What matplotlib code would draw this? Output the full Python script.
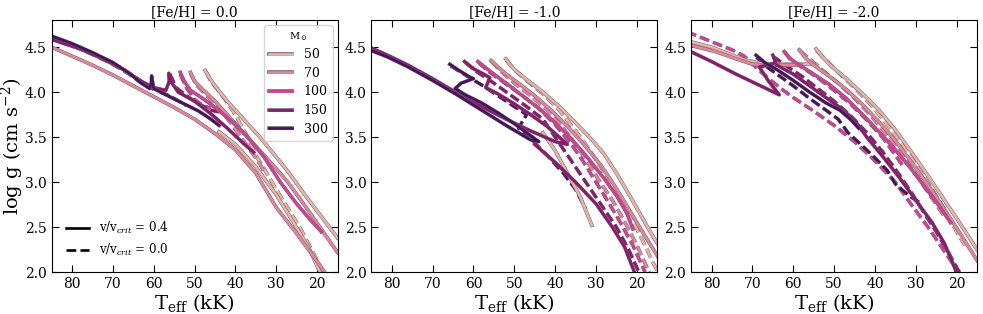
import numpy as np
import matplotlib.pyplot as plt
import matplotlib.patheffects as pe
from matplotlib.lines import Line2D

plt.rcParams['font.family'] = ['DejaVu Serif']
plt.rcParams['mathtext.fontset'] = 'dejavuserif'

nan = np.nan
masses = [50, 70, 100, 150, 300]
colors = ['#e9b2ac', '#e4849f', '#d63f98', '#8e1870', '#4a0f5f']
feh = ['0.0', '-1.0', '-2.0']

# tracks as (Teff [kK], log g); nan splits a track where it leaves the window
# ---- [Fe/H] = 0.0 ----
z0_50_rot = [(47.4, 4.24), (46.5, 4.17), (45, 4.07), (42, 3.9), (38, 3.7), (34, 3.5), (30, 3.28),
             (27, 3.11), (23, 2.86), (19, 2.62), (15, 2.38), (nan, nan),
             (44, 3.56), (40, 3.42), (35, 3.17), (30, 2.86), (26, 2.57), (22, 2.27), (19.5, 2.02), (19, 1.98)]
z0_70_rot = [(51, 4.22), (50, 4.12), (48, 4.03), (45, 3.9), (41, 3.7), (37, 3.5), (33, 3.3), (30, 3.15),
             (27, 2.99), (23, 2.74), (19, 2.48), (15, 2.22), (nan, nan),
             (86, 4.52), (80, 4.4), (75, 4.3), (70, 4.19), (65, 4.07), (60, 3.95), (55, 3.83), (50, 3.7),
             (45, 3.54), (40, 3.36), (35, 3.1), (30, 2.72), (25, 2.43), (20, 2.12), (18, 1.99)]
z0_100_rot = [(53.5, 4.22), (52.5, 4.12), (51, 4.02), (48, 3.93), (45, 3.83), (41, 3.68), (37, 3.5),
              (33, 3.28), (29, 3.0), (25, 2.76), (22, 2.6), (19, 2.45)]
z0_150_rot = [(86, 4.6), (78, 4.48), (72, 4.36), (67, 4.24), (63, 4.12), (60, 4.05), (57, 4.02),
              (56.2, 4.12), (56.3, 4.21), (55.5, 4.1), (54, 4.0), (50, 3.9), (46, 3.76), (42, 3.6),
              (38, 3.43), (35.5, 3.33)]
z0_300_rot = [(86, 4.64), (80, 4.54), (75, 4.44), (70, 4.33), (66, 4.21), (63, 4.1), (61, 4.04),
              (60.6, 4.1), (60.5, 4.18), (60.2, 4.1), (60, 4.04), (57, 3.97), (53, 3.88), (49, 3.79),
              (46, 3.7), (44, 3.63)]
z0_50_norot = [(47.2, 4.23), (46, 4.12), (43, 3.95), (40, 3.75), (37, 3.5), (35, 3.3), (33, 3.15),
               (30, 2.92), (27, 2.7), (24, 2.48), (21, 2.22), (18.5, 2.0)]
z0_70_norot = [(51, 4.21), (49.5, 4.08), (47, 3.96), (44, 3.82), (41, 3.65), (38, 3.46), (35.5, 3.3),
               (34, 3.2), (33, 3.12)]
z0_100_norot = [(86, 4.62), (80, 4.52), (75, 4.42), (70, 4.31), (66, 4.2), (63, 4.1), (60, 4.03),
                (nan, nan), (53.5, 4.2), (52, 4.05), (50, 3.92), (48, 3.85), (46, 3.82)]
z0_150_norot = [(56, 4.2), (54.5, 4.05), (52, 3.96), (49, 3.87), (46, 3.8), (44, 3.78)]
z0_300_norot = [(86, 4.62), (80, 4.52), (74, 4.41), (68, 4.27), (64, 4.15), (61, 4.06), (58, 4.0),
                (55, 3.93), (52, 3.85)]

# ---- [Fe/H] = -1.0 ----
z1_50_rot = [(52.1, 4.37), (51, 4.3), (49.5, 4.23), (47, 4.14), (43, 4.0), (39, 3.84), (35, 3.66),
             (31, 3.47), (28, 3.31), (25, 3.1), (22, 2.87), (19, 2.63), (17, 2.47), (15, 2.32),
             (nan, nan), (43, 3.55), (40, 3.35), (37, 3.1), (34, 2.85), (31, 2.52)]
z1_70_rot = [(55.7, 4.35), (54, 4.28), (52, 4.2), (49, 4.1), (45, 3.96), (41, 3.8), (37, 3.62),
             (33, 3.42), (29, 3.2), (26, 3.0), (23, 2.78), (20, 2.55), (17, 2.33), (15, 2.18)]
z1_100_rot = [(58.9, 4.34), (57, 4.27), (55, 4.2), (52, 4.1), (48, 3.96), (44, 3.82), (40, 3.66),
              (36, 3.48), (32, 3.27), (28, 3.04), (25, 2.85), (22.5, 2.66), (21, 2.48)]
z1_150_rot = [(62.2, 4.34), (60, 4.26), (57.5, 4.2), (56, 4.16), (57, 4.05), (54, 3.98), (50, 3.87),
              (46, 3.75), (42, 3.62), (39, 3.5), (37, 3.42), (40, 3.45), (46, 3.57), (52, 3.7),
              (58, 3.84), (64, 3.99), (70, 4.15), (76, 4.3), (81, 4.41), (86, 4.51), (nan, nan),
              (45, 3.42), (40, 3.22), (35, 3.0), (30, 2.76), (26, 2.5), (23, 2.28), (20.5, 1.99)]
z1_300_rot = [(65.8, 4.31), (63.5, 4.24), (61, 4.17), (60, 4.15), (63, 4.1), (64.5, 4.04), (62, 3.97),
              (58, 3.88), (54, 3.77), (50, 3.65), (47, 3.55), (44, 3.45), (46, 3.47), (52, 3.63),
              (58, 3.8), (64, 3.97), (70, 4.13), (76, 4.28), (81, 4.39), (86, 4.48)]
z1_50_norot = [(52, 4.36), (50, 4.25), (47, 4.13), (43, 3.98), (39, 3.8), (36, 3.63), (33, 3.45),
               (30, 3.25), (27, 3.04), (24, 2.82), (21, 2.57), (18, 2.3), (16, 2.1), (15, 2.02)]
z1_70_norot = [(55.6, 4.34), (53, 4.22), (50, 4.1), (46, 3.96), (42, 3.8), (38, 3.6), (35, 3.42),
               (32, 3.22), (29, 3.0), (26, 2.8), (23, 2.56), (20, 2.3), (17.5, 2.05), (17, 2.0)]
z1_100_norot = [(58.8, 4.33), (56, 4.22), (52, 4.09), (48, 3.96), (44, 3.82), (40, 3.64), (36, 3.42),
                (33, 3.22), (30, 3.0), (27, 2.78), (24, 2.55), (21, 2.3), (19, 2.1), (18, 2.0)]
z1_150_norot = [(62, 4.33), (59, 4.22), (55, 4.1), (51, 3.97), (47, 3.84), (43, 3.7), (40, 3.5),
                (37, 3.3), (34, 3.1), (31, 2.9), (28, 2.7), (25, 2.5), (22, 2.25), (20, 2.05), (19.5, 2.0)]
z1_300_norot = [(65.5, 4.29), (62, 4.19), (58, 4.08), (54, 3.96), (50, 3.84), (47, 3.75), (49, 3.6),
                (46, 3.48), (42, 3.3), (38, 3.1), (35, 2.92), (32.5, 2.7)]

# ---- [Fe/H] = -2.0 ----
z2_50_rot = [(54.4, 4.48), (53, 4.4), (51, 4.3), (47, 4.15), (43, 3.98), (39, 3.8), (35, 3.58),
             (31, 3.33), (27, 3.07), (23, 2.8), (19, 2.53), (15, 2.25), (nan, nan),
             (55, 4.31), (60, 4.31), (64, 4.31), (68, 4.32), (72, 4.36), (76, 4.43), (80, 4.5), (86, 4.57)]
z2_70_rot = [(58.5, 4.47), (57, 4.38), (55, 4.3), (51, 4.17), (47, 4.03), (43, 3.86), (39, 3.67),
             (35, 3.46), (31, 3.22), (27, 2.97), (23, 2.7), (19, 2.42), (15, 2.13), (nan, nan),
             (58, 4.3), (62, 4.3), (66, 4.3), (70, 4.31), (74, 4.37), (79, 4.45), (86, 4.53)]
z2_100_rot = [(62.2, 4.45), (61, 4.38), (58.5, 4.3), (55, 4.2), (51, 4.08), (47, 3.93), (43, 3.75),
              (39, 3.56), (35, 3.36), (31, 3.14), (27, 2.9), (24, 2.72), (21.5, 2.55)]
z2_150_rot = [(65, 4.41), (64.3, 4.33), (66, 4.3), (68.3, 4.28), (66, 4.12), (63.4, 3.97), (68, 4.07),
              (74, 4.2), (80, 4.34), (86, 4.47), (nan, nan),
              (64, 4.3), (60, 4.2), (56, 4.07), (52, 3.94), (48.6, 3.83), (45, 3.69), (42, 3.5),
              (38, 3.28), (34, 3.05), (30, 2.8), (26, 2.55), (23, 2.32), (20.5, 2.05), (20, 1.99)]
z2_300_rot = [(69.1, 4.41), (67, 4.33), (64, 4.25), (60, 4.13), (56, 4.0), (52, 3.88), (48.6, 3.8),
              (45.8, 3.69), (44, 3.6)]
z2_50_norot = [(54.3, 4.46), (52, 4.36), (49, 4.22), (45, 4.05), (41, 3.86), (37, 3.64), (33, 3.4),
               (29, 3.13), (26, 2.92), (23, 2.7), (20, 2.45), (18, 2.3)]
z2_70_norot = [(58.4, 4.46), (56, 4.37), (53, 4.25), (49, 4.1), (45, 3.93), (41, 3.74), (37, 3.52),
               (33, 3.28), (29, 3.02), (26, 2.82), (23, 2.62)]
z2_100_norot = [(62, 4.44), (60.5, 4.36), (58, 4.28), (54, 4.16), (50, 4.02), (46, 3.87), (42, 3.69),
                (38, 3.49), (35, 3.3), (33, 3.17), (nan, nan),
                (86, 4.67), (80, 4.56), (75, 4.47), (72, 4.4), (69, 4.27), (66, 4.15), (63, 4.04),
                (60, 3.94), (55, 3.79), (50, 3.63), (45, 3.45), (40.5, 3.26), (35, 3.0), (30.6, 2.72),
                (27, 2.5), (24, 2.3), (21, 2.1), (19.5, 2.0)]
z2_150_norot = [(65, 4.4), (62, 4.3), (58, 4.18), (54, 4.04), (50, 3.9), (46, 3.74), (42, 3.55),
                (38, 3.33), (34, 3.08), (31, 2.88), (28, 2.66), (25, 2.45), (22, 2.22), (20, 2.05), (19.3, 2.0)]
z2_300_norot = [(69, 4.39), (67, 4.3), (64, 4.2), (60, 4.07), (56, 3.93), (52, 3.8), (49, 3.7),
                (46.6, 3.55), (43, 3.4), (40, 3.27), (37, 3.13), (35, 2.98), (33, 2.9), (31, 2.83), (28.6, 2.76)]

panels = [
    ([z0_50_rot, z0_70_rot, z0_100_rot, z0_150_rot, z0_300_rot],
     [z0_50_norot, z0_70_norot, z0_100_norot, z0_150_norot, z0_300_norot]),
    ([z1_50_rot, z1_70_rot, z1_100_rot, z1_150_rot, z1_300_rot],
     [z1_50_norot, z1_70_norot, z1_100_norot, z1_150_norot, z1_300_norot]),
    ([z2_50_rot, z2_70_rot, z2_100_rot, z2_150_rot, z2_300_rot],
     [z2_50_norot, z2_70_norot, z2_100_norot, z2_150_norot, z2_300_norot]),
]

lw = 1.9
edge = [pe.Stroke(linewidth=lw + 0.7, foreground='0.4'), pe.Normal()]

fig, axes = plt.subplots(1, 3, figsize=(9.83, 3.14), dpi=100)
fig.subplots_adjust(left=0.0524, right=0.994, bottom=0.133, top=0.936, wspace=0.118)

for ax, (rot, norot), z in zip(axes, panels, feh):
    for trk, c in zip(norot, colors):
        t, g = np.array(trk).T
        ax.plot(t, g, ls='--', color=c, lw=lw, path_effects=edge)
    for trk, c in zip(rot, colors):
        t, g = np.array(trk).T
        ax.plot(t, g, ls='-', color=c, lw=lw, path_effects=edge)
    ax.set_xlim(85, 15)
    ax.set_ylim(2.0, 4.8)
    ax.set_xticks([80, 70, 60, 50, 40, 30, 20])
    ax.set_yticks([2.0, 2.5, 3.0, 3.5, 4.0, 4.5])
    ax.tick_params(direction='in', top=True, right=True, length=5, labelsize=10)
    ax.set_title('[Fe/H] = ' + z, fontsize=10, pad=3)
    ax.set_xlabel(r'T$_{\rm eff}$ (kK)', fontsize=14, labelpad=1)

axes[0].set_ylabel(r'log g (cm s$^{-2}$)', fontsize=14)
axes[0].yaxis.set_label_coords(-0.088, 0.5)

mass_handles = [Line2D([], [], color=c, lw=lw, path_effects=edge) for c in colors]
leg1 = axes[0].legend(mass_handles, [str(m) for m in masses], title=r'M$_\odot$', loc='upper right',
                      fontsize=9, title_fontsize=7, handlelength=1.9, handletextpad=0.9,
                      borderaxespad=0.4, borderpad=0.4, labelspacing=0.45, edgecolor='0.8')
axes[0].add_artist(leg1)
rot_handles = [Line2D([], [], color='k', lw=lw, ls='-'), Line2D([], [], color='k', lw=lw, ls='--')]
axes[0].legend(rot_handles, [r'v/v$_{crit}$ = 0.4', r'v/v$_{crit}$ = 0.0'], loc='lower left',
               frameon=False, fontsize=8.5, handlelength=2.0, borderaxespad=0.8)

fig.savefig('out.png', dpi=100)
